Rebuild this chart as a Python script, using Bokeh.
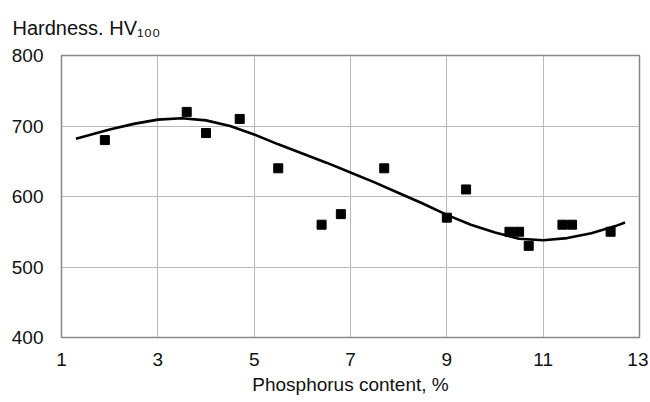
from bokeh.plotting import figure
from bokeh.models import Title, FixedTicker
from bokeh.embed import file_html
from bokeh.resources import INLINE

# measured points
phosphorus = [1.9, 3.6, 4.0, 4.7, 5.5, 6.4, 6.8, 7.7, 9.0, 9.4, 10.3, 10.5, 10.7, 11.4, 11.6, 12.4]
hardness = [680, 720, 690, 710, 640, 560, 575, 640, 570, 610, 550, 550, 530, 560, 560, 550]

# fitted trend curve
curve_x = [1.3, 2.0, 2.5, 3.0, 3.5, 4.0, 4.5, 5.0, 5.5, 6.0, 6.5, 7.0, 7.5, 8.0, 8.5, 9.0, 9.5, 10.0, 10.5, 11.0, 11.5, 12.0, 12.5, 12.7]
curve_y = [682, 695, 703, 709, 711, 708, 700, 688, 674, 661, 648, 634, 620, 605, 590, 574, 560, 549, 540, 538, 541, 548, 558, 563]

x_ticks = [1, 3, 5, 7, 9, 11, 13]
y_ticks = [400, 500, 600, 700, 800]

FONT = "Liberation Sans"

p = figure(width=648, height=398, x_range=(1, 13), y_range=(400, 800),
           output_backend="svg", toolbar_location=None,
           min_border_left=61, min_border_right=9, min_border_top=55, min_border_bottom=61)

p.add_layout(Title(text="Hardness. HV\u2081\u2080\u2080", text_font=FONT, text_font_size="20px",
                   text_font_style="normal", text_color="#111111", align="left", offset=-49,
                   vertical_align="top", standoff=30), "above")

p.line(curve_x, curve_y, line_color="black", line_width=2.6)
p.scatter(phosphorus, hardness, marker="square", size=9, fill_color="black", line_color="black")

p.xaxis.ticker = FixedTicker(ticks=x_ticks)
p.yaxis.ticker = FixedTicker(ticks=y_ticks)
p.xaxis.axis_label = "Phosphorus content, %"
for ax in (p.xaxis, p.yaxis):
    ax.major_label_text_font = FONT
    ax.major_label_text_font_size = "19px"
    ax.major_label_text_color = "#111111"
    ax.major_tick_line_color = None
    ax.minor_tick_line_color = None
    ax.axis_line_color = "#888888"
p.xaxis.axis_label_text_font = FONT
p.xaxis.axis_label_text_font_size = "19px"
p.xaxis.axis_label_text_font_style = "normal"
p.xaxis.axis_label_text_color = "#111111"
p.xaxis.axis_label_standoff = 5
p.xaxis.major_label_standoff = 9
p.yaxis.major_label_standoff = 12

p.grid.grid_line_color = "#b8b8b8"
p.grid.grid_line_width = 1
p.outline_line_color = "#888888"
p.outline_line_width = 1.5
p.background_fill_color = "white"
p.border_fill_color = "white"

open("out.html", "w").write(file_html(p, INLINE))
